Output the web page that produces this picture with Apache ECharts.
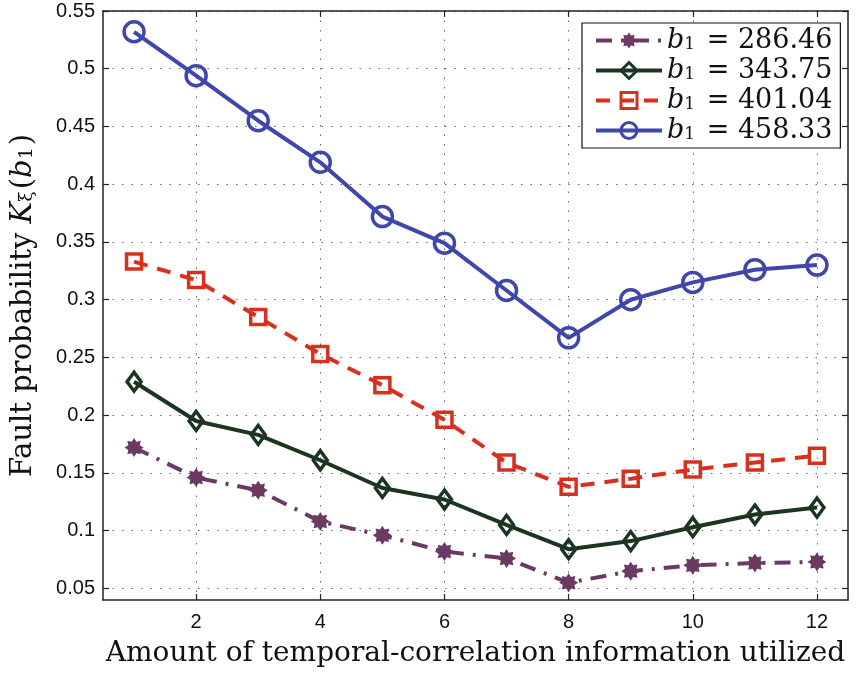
<!DOCTYPE html>
<html>
<head>
<meta charset="utf-8">
<script src="https://cdn.jsdelivr.net/npm/echarts@6/dist/echarts.min.js"></script>
<style>html,body{margin:0;padding:0;background:#fff}#c{width:856px;height:673px}</style>
</head>
<body>
<div id="c"></div>
<script>
var xValues = [1,2,3,4,5,6,7,8,9,10,11,12];
var seriesNames = ['286.46','343.75','401.04','458.33'];
var b286 = [0.172,0.146,0.135,0.108,0.096,0.082,0.076,0.055,0.065,0.070,0.072,0.073];
var b343 = [0.229,0.195,0.183,0.161,0.137,0.127,0.105,0.084,0.091,0.103,0.114,0.120];
var b401 = [0.333,0.317,0.285,0.253,0.226,0.196,0.159,0.138,0.145,0.153,0.159,0.165];
var b458 = [0.532,0.494,0.455,0.419,0.372,0.349,0.308,0.267,0.300,0.315,0.326,0.330];
var xTicks = [2,4,6,8,10,12];
var yTicks = [0.05,0.1,0.15,0.2,0.25,0.3,0.35,0.4,0.45,0.5,0.55];

function pairs(arr){ return xValues.map(function(x,i){return [x, arr[i]];}); }

var starPath = (function(){
  var pts = [], n = 8;
  for (var i=0;i<2*n;i++){
    var r = (i%2===0) ? 1 : 0.66;
    var a = Math.PI*i/n - Math.PI/2;
    pts.push((50+50*r*Math.cos(a)).toFixed(2)+','+(50+50*r*Math.sin(a)).toFixed(2));
  }
  return 'path://M'+pts.join('L')+'Z';
})();

var serif = '"DejaVu Serif", "Liberation Serif", serif';
var sans = '"Liberation Sans", Arial, sans-serif';

var colors = ['#6B3A63','#1B3521','#D8301F','#4047AA'];
var clear = 'rgba(0,0,0,0)';

var chart = echarts.init(document.getElementById('c'));

function lname(v){ return 'b1 = ' + v; }

var option = {
  animation: false,
  grid: {left: 103, right: 8, top: 11, bottom: 73, containLabel: false, outerBoundsMode: 'none'},
  legend: {
    orient: 'vertical',
    left: 582, top: 23,
    width: 255,
    padding: [4, 8, 4, 12],
    itemGap: 3,
    itemWidth: 66,
    itemHeight: 20,
    borderColor: '#111', borderWidth: 1.2,
    backgroundColor: '#fff',
    lineStyle: {width: 4},
    itemStyle: {borderWidth: 3},
    data: seriesNames.map(lname),
    formatter: function(n){ return '{i|b}{s|1}{t| = ' + n.slice(5) + '}'; },
    textStyle: {
      fontFamily: serif, fontSize: 27, color:'#111',
      rich: {
        i: {fontFamily: serif, fontStyle:'italic', fontSize: 27, color:'#111', lineHeight: 26},
        s: {fontFamily: serif, fontSize: 17, color:'#111', verticalAlign:'bottom', lineHeight: 10, padding:[0,3,0,0]},
        t: {fontFamily: serif, fontSize: 27, color:'#111', lineHeight: 26}
      }
    }
  },
  xAxis: [{
    type: 'value', min: 0.5, max: 12.5,
    name: 'Amount of temporal-correlation information utilized',
    nameLocation: 'middle', nameGap: 40,
    nameTextStyle: {fontFamily: serif, fontSize: 28, color:'#111'},
    axisLine: {onZero:false, lineStyle:{color:'#222', width:1.5}},
    axisTick: {inside:true, length:6, customValues: xTicks, lineStyle:{color:'#222', width:1.2}},
    axisLabel: {customValues: xTicks, fontFamily: sans, fontSize: 20, color:'#111', margin: 12},
    splitLine: {show:true, lineStyle:{color:'#666', width:1, type:[1.5,8]}}
  },{
    type: 'value', min: 0.5, max: 12.5, position:'top',
    axisLine: {onZero:false, lineStyle:{color:'#222', width:1.5}},
    axisTick: {inside:true, length:6, customValues: xTicks, lineStyle:{color:'#222', width:1.2}},
    axisLabel: {show:false}, splitLine:{show:false}
  }],
  yAxis: [{
    type: 'value', min: 0.04, max: 0.55,
    name: '{n|Fault probability }{i|K}{s|ξ}{n|(}{i|b}{s|1}{n|)}',
    nameLocation: 'middle', nameGap: 66, nameRotate: 90,
    nameTextStyle: {
      fontFamily: serif, fontSize: 29, color:'#111',
      rich: {
        n: {fontFamily: serif, fontSize: 29, color:'#111', lineHeight: 28},
        i: {fontFamily: serif, fontStyle:'italic', fontSize: 29, color:'#111', lineHeight: 28},
        s: {fontFamily: serif, fontSize: 19, color:'#111', verticalAlign:'bottom', lineHeight: 10, padding:[0,2,0,0]}
      }
    },
    axisLine: {onZero:false, lineStyle:{color:'#222', width:1.5}},
    axisTick: {inside:true, length:6, customValues: yTicks, lineStyle:{color:'#222', width:1.2}},
    axisLabel: {customValues: yTicks, fontFamily: sans, fontSize: 20, color:'#111', margin: 8,
      formatter: function(v){ return String(+v.toFixed(2)); }},
    splitLine: {show:true, lineStyle:{color:'#666', width:1, type:[1.5,8]}}
  },{
    type: 'value', min: 0.04, max: 0.55, position:'right',
    axisLine: {onZero:false, lineStyle:{color:'#222', width:1.5}},
    axisTick: {inside:true, length:6, customValues: yTicks, lineStyle:{color:'#222', width:1.2}},
    axisLabel: {show:false}, splitLine:{show:false}
  }],
  series: [
    {
      name: lname(seriesNames[0]), type:'line', data: pairs(b286),
      symbol: starPath, symbolSize: 19,
      itemStyle: {color: colors[0]},
      lineStyle: {color: colors[0], width: 4, type: [16,9,3,9]}
    },
    {
      name: lname(seriesNames[1]), type:'line', data: pairs(b343),
      symbol: 'diamond', symbolSize: [14,19],
      itemStyle: {color: clear, borderColor: colors[1], borderWidth: 3.5},
      lineStyle: {color: colors[1], width: 4}
    },
    {
      name: lname(seriesNames[2]), type:'line', data: pairs(b401),
      symbol: 'rect', symbolSize: 15,
      itemStyle: {color: clear, borderColor: colors[2], borderWidth: 3.5},
      lineStyle: {color: colors[2], width: 4, type: [14,10]}
    },
    {
      name: lname(seriesNames[3]), type:'line', data: pairs(b458),
      symbol: 'circle', symbolSize: 20,
      itemStyle: {color: clear, borderColor: colors[3], borderWidth: 3.5},
      lineStyle: {color: colors[3], width: 4}
    }
  ]
};
chart.setOption(option);
</script>
</body>
</html>
